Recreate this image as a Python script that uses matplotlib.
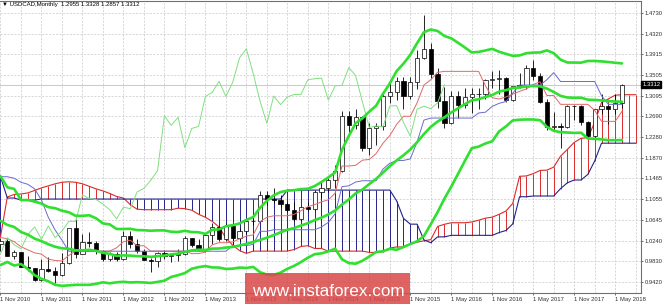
import matplotlib
matplotlib.use("Agg")
import matplotlib.pyplot as plt
from matplotlib.patches import Rectangle

# USDCAD monthly, Nov 2010 .. Jun 2018 (bar index 0 = Nov 2010)
opens = [1.0180, 1.0240, 0.9946, 1.0010, 0.9720, 0.9700, 0.9470, 0.9690, 0.9645, 0.9555,
         0.9800, 1.0480, 0.9970, 1.0210, 1.0185, 1.0030, 0.9880, 0.9980, 0.9880, 1.0340,
         1.0180, 1.0030, 0.9860, 0.9830, 0.9990, 0.9930, 0.9950, 0.9980, 1.0300, 1.0160,
         1.0080, 1.0360, 1.0510, 1.0270, 1.0530, 1.0300, 1.0430, 1.0620, 1.0620, 1.1140,
         1.1070, 1.1050, 1.0960, 1.0850, 1.0670, 1.0900, 1.0870, 1.1200, 1.1270, 1.1430,
         1.1620, 1.2700, 1.2510, 1.2670, 1.2070, 1.2450, 1.2490, 1.3080, 1.3160, 1.3380,
         1.3080, 1.3360, 1.3840, 1.4020, 1.3530, 1.2990, 1.2550, 1.3090, 1.2920, 1.3070,
         1.3120, 1.3120, 1.3410, 1.3430, 1.3440, 1.3010, 1.3290, 1.3300, 1.3650, 1.3490,
         1.2970, 1.2470, 1.2500, 1.2480, 1.2890, 1.2900, 1.2570, 1.2300, 1.2830, 1.2890,
         1.2840, 1.2955]
highs = [1.0290, 1.0270, 1.0060, 1.0025, 0.9930, 0.9700, 0.9870, 0.9910, 0.9720, 1.0000,
         1.0490, 1.0660, 1.0380, 1.0420, 1.0230, 1.0050, 1.0010, 1.0020, 1.0440, 1.0440,
         1.0280, 1.0070, 0.9900, 1.0010, 1.0050, 0.9960, 1.0070, 1.0340, 1.0300, 1.0270,
         1.0400, 1.0590, 1.0540, 1.0580, 1.0550, 1.0490, 1.0650, 1.0700, 1.1220, 1.1220,
         1.1280, 1.1140, 1.1000, 1.1010, 1.0910, 1.1000, 1.1220, 1.1390, 1.1470, 1.1730,
         1.2800, 1.2800, 1.2830, 1.2700, 1.2560, 1.2560, 1.3120, 1.3350, 1.3460, 1.3460,
         1.3460, 1.3990, 1.4690, 1.4130, 1.3650, 1.3260, 1.3190, 1.3190, 1.3250, 1.3240,
         1.3250, 1.3420, 1.3590, 1.3600, 1.3460, 1.3270, 1.3540, 1.3700, 1.3790, 1.3550,
         1.3030, 1.2780, 1.2550, 1.2920, 1.2920, 1.2910, 1.2600, 1.2840, 1.3120, 1.2920,
         1.3120, 1.3328]
lows = [1.0030, 0.9930, 0.9870, 0.9720, 0.9640, 0.9450, 0.9450, 0.9630, 0.9410, 0.9540,
        0.9780, 0.9890, 0.9970, 1.0120, 0.9980, 0.9840, 0.9840, 0.9840, 0.9860, 1.0100,
        1.0000, 0.9860, 0.9630, 0.9730, 0.9880, 0.9810, 0.9840, 0.9960, 1.0120, 1.0040,
        1.0010, 1.0180, 1.0230, 1.0240, 1.0180, 1.0240, 1.0380, 1.0540, 1.0620, 1.0950,
        1.0990, 1.0900, 1.0810, 1.0630, 1.0620, 1.0820, 1.0850, 1.1080, 1.1200, 1.1270,
        1.1600, 1.2350, 1.2440, 1.2000, 1.1920, 1.2130, 1.2420, 1.2950, 1.3010, 1.2830,
        1.3040, 1.3220, 1.3820, 1.3450, 1.2860, 1.2460, 1.2540, 1.2650, 1.2850, 1.2760,
        1.2840, 1.3040, 1.3250, 1.3120, 1.2970, 1.3000, 1.3250, 1.3230, 1.3410, 1.2950,
        1.2410, 1.2410, 1.2060, 1.2450, 1.2620, 1.2520, 1.2250, 1.2250, 1.2740, 1.2530,
        1.2730, 1.2857]
closes = [1.0240, 0.9946, 1.0010, 0.9720, 0.9700, 0.9470, 0.9690, 0.9645, 0.9555, 0.9800,
          1.0480, 0.9970, 1.0210, 1.0185, 1.0030, 0.9880, 0.9980, 0.9880, 1.0340, 1.0180,
          1.0030, 0.9860, 0.9830, 0.9990, 0.9930, 0.9950, 0.9980, 1.0300, 1.0160, 1.0080,
          1.0360, 1.0510, 1.0270, 1.0530, 1.0300, 1.0430, 1.0620, 1.0620, 1.1140, 1.1070,
          1.1050, 1.0960, 1.0850, 1.0670, 1.0900, 1.0870, 1.1200, 1.1270, 1.1430, 1.1620,
          1.2700, 1.2510, 1.2670, 1.2070, 1.2450, 1.2490, 1.3080, 1.3160, 1.3380, 1.3080,
          1.3360, 1.3840, 1.4020, 1.3530, 1.2990, 1.2550, 1.3090, 1.2920, 1.3070, 1.3120,
          1.3120, 1.3410, 1.3430, 1.3440, 1.3010, 1.3290, 1.3300, 1.3650, 1.3490, 1.2970,
          1.2470, 1.2500, 1.2480, 1.2890, 1.2900, 1.2570, 1.2300, 1.2830, 1.2890, 1.2840,
          1.2955, 1.3312]

# Bollinger bands (20, 2)
bb_upper = [1.151, 1.129, 1.126, 1.104, 1.104, 1.101, 1.097, 1.090, 1.088, 1.083,
            1.080, 1.073, 1.073, 1.074, 1.068, 1.058, 1.056, 1.047, 1.047, 1.0474,
            1.0448, 1.0445, 1.0436, 1.0442, 1.0442, 1.0415, 1.0411, 1.0434, 1.0410, 1.0406,
            1.0373, 1.0454, 1.0462, 1.0525, 1.0545, 1.0579, 1.0650, 1.0704, 1.0888, 1.1024,
            1.1133, 1.1198, 1.1225, 1.1234, 1.1256, 1.1263, 1.1315, 1.1396, 1.1485, 1.1585,
            1.2028, 1.2303, 1.2554, 1.2651, 1.2781, 1.2899, 1.3131, 1.3337, 1.3580, 1.3727,
            1.3899, 1.4131, 1.4346, 1.4399, 1.4370, 1.4272, 1.4225, 1.4137, 1.4045, 1.3947,
            1.3958, 1.3986, 1.4018, 1.3961, 1.3920, 1.3881, 1.3888, 1.3933, 1.3944, 1.3947,
            1.3988, 1.3933, 1.3806, 1.3749, 1.3748, 1.3746, 1.3780, 1.3779, 1.3771, 1.3759,
            1.3744, 1.3731]
bb_middle = [1.063, 1.055, 1.051, 1.041, 1.036, 1.028, 1.023, 1.017, 1.012, 1.009,
             1.008, 1.005, 1.005, 1.006, 1.004, 1.000, 0.998, 0.994, 0.995, 0.9946,
             0.9935, 0.9931, 0.9922, 0.9935, 0.9947, 0.9971, 0.9985, 1.0018, 1.0048, 1.0062,
             1.0056, 1.0083, 1.0086, 1.0104, 1.0117, 1.0145, 1.0177, 1.0214, 1.0254, 1.0298,
             1.0349, 1.0404, 1.0455, 1.0489, 1.0538, 1.0584, 1.0645, 1.0693, 1.0757, 1.0834,
             1.0951, 1.1051, 1.1171, 1.1248, 1.1355, 1.1458, 1.1581, 1.1708, 1.1820, 1.1921,
             1.2036, 1.2180, 1.2339, 1.2482, 1.2586, 1.2670, 1.2765, 1.2847, 1.2929, 1.3004,
             1.3025, 1.3070, 1.3108, 1.3177, 1.3205, 1.3245, 1.3256, 1.3280, 1.3286, 1.3280,
             1.3236, 1.3169, 1.3092, 1.3060, 1.3055, 1.3056, 1.3017, 1.3012, 1.3003, 1.2989,
             1.2981, 1.2976]
bb_lower = [0.976, 0.982, 0.975, 0.978, 0.968, 0.956, 0.949, 0.944, 0.937, 0.935,
            0.936, 0.937, 0.937, 0.937, 0.939, 0.942, 0.940, 0.942, 0.943, 0.9417,
            0.9422, 0.9417, 0.9407, 0.9428, 0.9452, 0.9526, 0.9560, 0.9602, 0.9687, 0.9719,
            0.9739, 0.9713, 0.9710, 0.9682, 0.9689, 0.9710, 0.9703, 0.9723, 0.9619, 0.9572,
            0.9565, 0.9610, 0.9685, 0.9744, 0.9819, 0.9904, 0.9974, 0.9990, 1.0028, 1.0082,
            0.9873, 0.9798, 0.9787, 0.9844, 0.9929, 1.0017, 1.0031, 1.0079, 1.0060, 1.0114,
            1.0173, 1.0229, 1.0331, 1.0564, 1.0802, 1.1068, 1.1304, 1.1557, 1.1813, 1.2061,
            1.2092, 1.2154, 1.2198, 1.2392, 1.2489, 1.2608, 1.2623, 1.2627, 1.2627, 1.2613,
            1.2483, 1.2404, 1.2377, 1.2370, 1.2362, 1.2366, 1.2253, 1.2245, 1.2235, 1.2219,
            1.2218, 1.2221]

# Ichimoku lines
tenkan = [1.030, 1.028, 1.022, 1.012, 1.006, 1.000, 0.9975, 0.9875, 0.985, 0.984,
          0.995, 1.0035, 1.0035, 1.0035, 1.0035, 1.0035, 1.0035, 1.010, 1.022, 1.025,
          1.014, 1.014, 1.0035, 1.0035, 1.0035, 1.0035, 1.0035, 1.0035, 0.9985, 0.9985,
          1.0015, 1.016, 1.020, 1.020, 1.0215, 1.0275, 1.033, 1.0355, 1.0615, 1.070,
          1.073, 1.073, 1.073, 1.076, 1.083, 1.091, 1.095, 1.1005, 1.1045, 1.1175,
          1.171, 1.171, 1.1725, 1.1825, 1.184, 1.1955, 1.216, 1.231, 1.253, 1.269,
          1.269, 1.2955, 1.3305, 1.341, 1.3555, 1.3575, 1.3575, 1.3575, 1.3575, 1.3575,
          1.3575, 1.3295, 1.3055, 1.303, 1.307, 1.3125, 1.318, 1.323, 1.3315, 1.337,
          1.310, 1.310, 1.2925, 1.2925, 1.2925, 1.2925, 1.2925, 1.2805, 1.259, 1.259,
          1.259, 1.2789]
kijun = [1.150, 1.150, 1.147, 1.139, 1.135, 1.126, 1.104, 1.070, 1.045, 1.025,
         1.0032, 1.0032, 1.0032, 1.0032, 1.0032, 1.0032, 1.0032, 1.0032, 1.0032, 1.0032,
         1.0032, 1.0032, 1.0032, 1.0032, 1.0032, 1.0032, 1.0032, 1.0032, 1.0032, 1.0032,
         1.0032, 1.0032, 1.0032, 1.0032, 1.0145, 1.0145, 1.0145, 1.0165, 1.0425, 1.0425,
         1.0455, 1.0455, 1.0455, 1.0455, 1.0455, 1.0455, 1.0455, 1.051, 1.060, 1.077,
         1.1305, 1.132, 1.1395, 1.142, 1.142, 1.142, 1.165, 1.1765, 1.182, 1.182,
         1.185, 1.2185, 1.2615, 1.2655, 1.2655, 1.2655, 1.2655, 1.2655, 1.2655, 1.2655,
         1.2755, 1.277, 1.2885, 1.2945, 1.298, 1.3145, 1.3305, 1.3305, 1.3305, 1.3305,
         1.341, 1.355, 1.3375, 1.3375, 1.3375, 1.3375, 1.3375, 1.3375, 1.3095, 1.2925,
         1.2925, 1.2925]
span_a = [1.032, 1.110, 1.115, 1.116, 1.118, 1.123, 1.128, 1.132, 1.136, 1.139,
          1.140, 1.139, 1.136, 1.131, 1.126, 1.122, 1.117, 1.111, 1.108, 1.095,
          1.086, 1.085, 1.085, 1.085, 1.085, 1.085, 1.088, 1.087, 1.084, 1.076,
          1.070, 1.062, 1.051, 1.029, 1.015, 1.0045, 0.999, 1.0034, 1.0034, 1.0034,
          1.0034, 1.0034, 1.0034, 1.0066, 1.0126, 1.0141, 1.0086, 1.0086, 1.0034, 1.0034,
          1.0034, 1.0034, 1.0034, 1.0034, 1.0009, 1.0009, 1.0024, 1.0096, 1.0116, 1.0116,
          1.018, 1.021, 1.0238, 1.026, 1.052, 1.0563, 1.0593, 1.0593, 1.0593, 1.0608,
          1.0643, 1.0683, 1.0703, 1.0758, 1.0823, 1.0973, 1.1508, 1.1515, 1.156, 1.1623,
          1.163, 1.1688, 1.1905, 1.2038, 1.2175, 1.2255, 1.227, 1.257, 1.296, 1.3033,
          1.3105, 1.3115, 1.3115, 1.3115]
span_b = [1.150, 1.108, 1.108, 1.104, 1.104, 1.104, 1.106, 1.106, 1.106, 1.106,
          1.106, 1.106, 1.106, 1.106, 1.106, 1.106, 1.106, 1.106, 1.106, 1.106,
          1.106, 1.106, 1.106, 1.106, 1.106, 1.106, 1.106, 1.106, 1.106, 1.106,
          1.106, 1.106, 1.106, 1.106, 1.106, 1.106, 1.106, 1.106, 1.106, 1.106,
          1.106, 1.106, 1.1236, 1.1236, 1.1236, 1.1236, 1.1236, 1.1236, 1.1236, 1.1236,
          1.1236, 1.1236, 1.1236, 1.1236, 1.1236, 1.1236, 1.1236, 1.1236, 1.1025, 1.068,
          1.0565, 1.0565, 1.0255, 1.020, 1.0315, 1.0315, 1.0345, 1.0345, 1.0345, 1.0345,
          1.0345, 1.0345, 1.0345, 1.040, 1.044, 1.057, 1.1105, 1.1105, 1.112, 1.112,
          1.112, 1.112, 1.1265, 1.138, 1.1435, 1.1435, 1.1545, 1.181, 1.216, 1.216,
          1.216, 1.216, 1.216, 1.216]

price_ticks = [0.9420, 0.9830, 1.0240, 1.0645, 1.1055, 1.1465, 1.1870, 1.2280,
               1.2690, 1.3095, 1.3505, 1.3915, 1.4320, 1.4730]
date_ticks = [0, 6, 12, 18, 24, 30, 36, 42, 48, 54, 60, 66, 72, 78, 84, 90]
date_labels = ["1 Nov 2010", "1 May 2011", "1 Nov 2011", "1 May 2012", "1 Nov 2012",
               "1 May 2013", "1 Nov 2013", "1 May 2014", "1 Nov 2014", "1 May 2015",
               "1 Nov 2015", "1 May 2016", "1 Nov 2016", "1 May 2017", "1 Nov 2017",
               "1 May 2018"]
last_price = 1.3312

plt.rcParams['font.family'] = ['Liberation Sans', 'DejaVu Sans']

fig = plt.figure(figsize=(6.65, 3.04), dpi=100)
ax = fig.add_axes([0.0, 0.0378, 0.9639, 0.9589])

bars = list(range(len(closes)))
cloud_x = list(range(len(span_a)))

# grid
for p in price_ticks:
    ax.axhline(p, color='#c8c8c8', lw=0.5, ls=(0, (3, 2)), zorder=0)
for g in range(0, 94, 3):
    ax.axvline(g, color='#c8c8c8', lw=0.5, ls=(0, (3, 2)), zorder=0)

# kumo hatching
red = '#dd2a2a'
navy = '#23238c'
hatch_cols = [red if a > b else navy for a, b in zip(span_a, span_b)]
ax.vlines(cloud_x, span_a, span_b, colors=hatch_cols, lw=0.7, zorder=1)
ax.plot(cloud_x, span_a, color=red, lw=0.8, zorder=1)
ax.plot(cloud_x, span_b, color=navy, lw=0.8, zorder=1)

# bid line
ax.axhline(last_price, color='#c0c0c0', lw=0.6, zorder=1)

# candles
for k in bars:
    o, h, l, c = opens[k], highs[k], lows[k], closes[k]
    ax.vlines(k, l, h, color='black', lw=0.6, zorder=3)
    face = 'white' if c >= o else 'black'
    ax.bar(k, max(abs(c - o), 0.0006), bottom=min(o, c), width=0.62,
           color=face, edgecolor='black', lw=0.5, zorder=4)

# ichimoku thin lines
ax.plot(bars, tenkan, color='#e06868', lw=0.7, zorder=5)
ax.plot(bars, kijun, color='#6a6ad0', lw=0.7, zorder=5)
ax.plot(bars[:len(closes) - 26], closes[26:], color='#80e080', lw=0.7, zorder=5)

# bollinger
for band in (bb_upper, bb_middle, bb_lower):
    ax.plot(bars, band, color='#2fe02f', lw=1.9, zorder=6, solid_capstyle='round')

ax.set_xlim(-0.073, 93.78)
ax.set_ylim(0.92189, 1.49605)

ax.yaxis.tick_right()
ax.set_yticks(price_ticks)
ax.set_yticklabels([f"{p:.4f}" for p in price_ticks])
ax.set_xticks(date_ticks)
ax.set_xticklabels(date_labels, ha='left')
ax.tick_params(axis='both', labelsize=4.2, length=1.5, width=0.5, pad=1.2,
               colors='#303030')
ax.tick_params(axis='x', pad=1.5)

for side in ('right', 'bottom', 'top'):
    ax.spines[side].set_color('#707070')
    ax.spines[side].set_linewidth(0.8)
ax.spines['left'].set_visible(False)

# price label on axis
ax.text(1.002, last_price, f"{last_price:.4f}", transform=ax.get_yaxis_transform(),
        ha='left', va='center', fontsize=4.2, color='white',
        bbox=dict(boxstyle='square,pad=0.15', fc='black', ec='black'), zorder=8,
        clip_on=False)

# header
fig.text(0.003, 0.984, "\u25bc USDCAD,Monthly  1.2955 1.3328 1.2857 1.3312",
         fontsize=4.3, color='black', ha='left', va='center')

# watermark
fig.patches.append(Rectangle((245 / 665, 0), 165 / 665, 31 / 304,
                             transform=fig.transFigure, facecolor='#d94848',
                             alpha=0.85, edgecolor='none', zorder=10))
fig.text(328 / 665, 1 - 291 / 304, "www.instaforex.com", fontsize=12.3,
         color='white', ha='center', va='center', zorder=11)

fig.savefig("out.png", dpi=100)
